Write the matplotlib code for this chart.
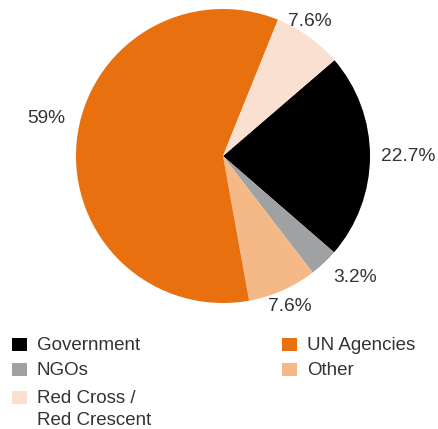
import matplotlib.pyplot as plt
import matplotlib.patches as mpatches
import numpy as np

# slices in clockwise order, starting from the Government edge
names = ["Government", "NGOs", "Other", "UN Agencies", "Red Cross /\nRed Crescent"]
values = [22.7, 3.2, 7.6, 59.0, 7.6]
pct_labels = ["22.7%", "3.2%", "7.6%", "59%", "7.6%"]
colors = ["#000000", "#a0a1a3", "#f5b887", "#e8700e", "#fae0d0"]

# legend reading order: left column then right column
legend_order = ["Government", "NGOs", "Red Cross /\nRed Crescent", "UN Agencies", "Other"]

plt.rcParams['font.family'] = ['Liberation Sans', 'DejaVu Sans']
txt_color = "#333333"

W, H = 438, 429
fig = plt.figure(figsize=(W / 100, H / 100), dpi=100)

cx, cy, r = 223, 156, 147
ax = fig.add_axes([(cx - r) / W, (H - cy - r) / H, 2 * r / W, 2 * r / H])
wedges, _ = ax.pie(values, colors=colors, startangle=40.7, counterclock=False,
                   wedgeprops=dict(linewidth=0))
ax.set_xlim(-1, 1)
ax.set_ylim(-1, 1)
ax.set_aspect('equal')

# label placement around the pie (radial factor, angle tweak)
label_dist = [1.26, 1.22, 1.12, 1.23, 1.09]
angle_tweak = [0, 4, 0, -6, 3]
for w, lab, d, t in zip(wedges, pct_labels, label_dist, angle_tweak):
    ang = np.deg2rad((w.theta1 + w.theta2) / 2 + t)
    ax.text(d * np.cos(ang), d * np.sin(ang), lab, ha='center', va='center',
            fontsize=13.8, color=txt_color, clip_on=False)

# manual legend
col_x = [12, 282]
row_y = [338, 363, 391]  # top of each square, px from top
for i, name in enumerate(legend_order):
    col, row = (0, i) if i < 3 else (1, i - 3)
    x, y = col_x[col], row_y[row]
    c = colors[names.index(name)]
    fig.patches.append(mpatches.Rectangle((x / W, (H - y - 13) / H), 15 / W, 13 / H,
                                          transform=fig.transFigure, color=c, lw=0))
    fig.text((x + 25) / W, (H - y + 1) / H, name, fontsize=13.5, color=txt_color,
             va='top', linespacing=1.42)

fig.savefig("out.png", dpi=100)
